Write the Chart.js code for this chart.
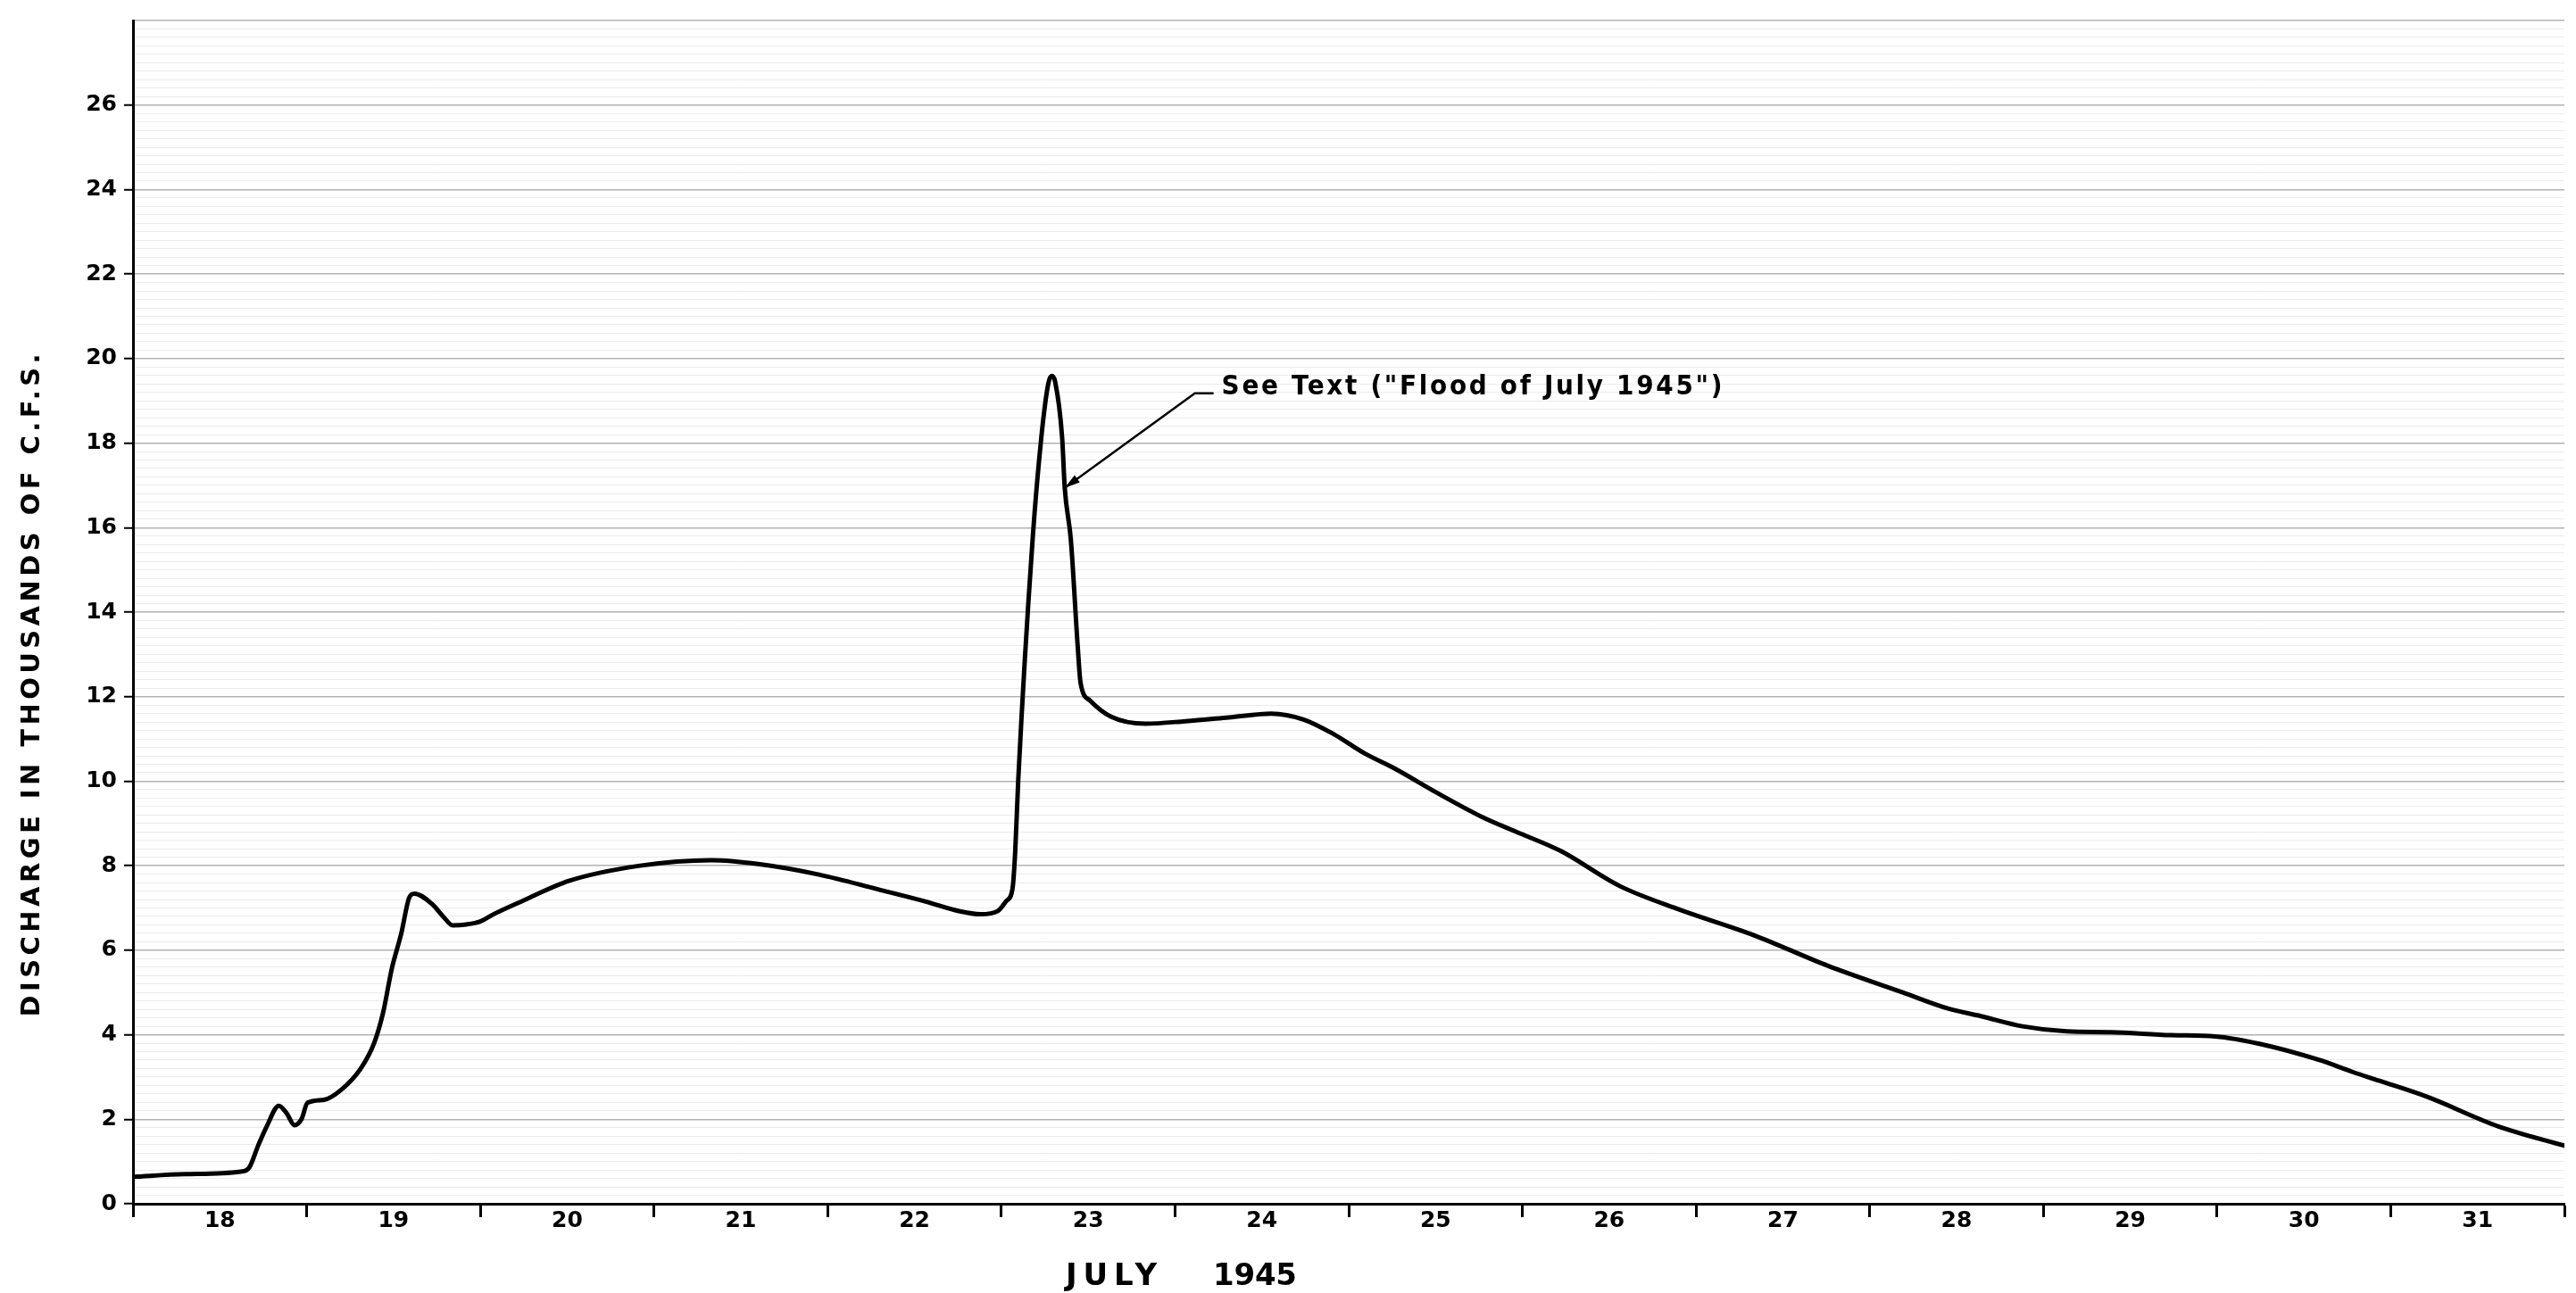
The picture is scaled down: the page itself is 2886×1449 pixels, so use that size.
<!DOCTYPE html>
<html>
<head>
<meta charset="utf-8">
<script src="https://cdn.jsdelivr.net/npm/chart.js@4.4.1/dist/chart.umd.min.js"></script>
<style>
  html, body { margin: 0; padding: 0; background: #ffffff; }
  #wrap { width: 2886px; height: 1449px; }
</style>
</head>
<body>
<div id="wrap"><canvas id="c" width="2886" height="1449"></canvas></div>
<script>
// ---- Data (days of July 1945, discharge in 1000 cfs) ----
const days = [
  18.00, 18.30, 18.62, 18.67, 18.72, 18.77, 18.84, 18.885, 18.93, 18.97,
  19.005, 19.10, 19.20, 19.31, 19.39, 19.44, 19.49, 19.545, 19.59, 19.62,
  19.72, 19.79, 19.84, 19.92, 20.00, 20.08, 20.25, 20.51, 20.92, 21.33,
  21.60, 21.95, 22.29, 22.565, 22.75, 22.88, 22.98, 23.03, 23.064, 23.08,
  23.097, 23.18, 23.23, 23.27, 23.29, 23.31, 23.35, 23.365, 23.40, 23.44,
  23.456, 23.51, 23.63, 23.83, 24.06, 24.31, 24.555, 24.74, 24.915, 25.09,
  25.26, 25.515, 25.77, 25.96, 26.22, 26.56, 26.905, 27.33, 27.76, 28.19,
  28.45, 28.64, 28.88, 29.135, 29.39, 29.735, 29.99, 30.25, 30.59, 30.78,
  30.935, 31.21, 31.62, 32.00
];
const discharge = [
  0.64, 0.70, 0.76, 0.86, 1.37, 1.83, 2.32, 2.14, 1.86, 2.00,
  2.39, 2.46, 2.70, 3.19, 3.82, 4.52, 5.56, 6.40, 7.24, 7.34,
  7.10, 6.78, 6.59, 6.61, 6.68, 6.86, 7.18, 7.64, 8.00, 8.13,
  8.04, 7.79, 7.44, 7.15, 6.93, 6.85, 6.93, 7.17, 7.45, 8.35,
  10.0, 15.72, 18.13, 19.40, 19.59, 19.45, 18.13, 16.94, 15.72, 13.17,
  12.33, 11.91, 11.53, 11.36, 11.42, 11.51, 11.60, 11.46, 11.11, 10.66,
  10.31, 9.71, 9.15, 8.81, 8.35, 7.52, 6.96, 6.36, 5.63, 5.00,
  4.62, 4.44, 4.20, 4.08, 4.06, 3.99, 3.96, 3.78, 3.40, 3.12,
  2.91, 2.53, 1.83, 1.375
];
const dayLabels = ['18','19','20','21','22','23','24','25','26','27','28','29','30','31'];
const yTickLabels = ['0','2','4','6','8','10','12','14','16','18','20','22','24','26'];
const yTitle = 'DISCHARGE IN THOUSANDS OF C.F.S.';
const xTitleWords = ['JULY', '1945'];
const noteText = 'See Text ("Flood of July 1945")';
const noteTip = [23.365, 16.94];     // arrow tip (day, kcfs)
const noteElbow = [24.114, 19.18];   // leader elbow (day, kcfs)

const FONT = '"DejaVu Sans", sans-serif';

function fitSpacing(ctx, text, target) {
  if (!('letterSpacing' in ctx)) return 0;
  ctx.letterSpacing = '0px';
  const w0 = ctx.measureText(text).width;
  const ls = (target - w0) / (text.length - 1);
  ctx.letterSpacing = ls.toFixed(2) + 'px';
  return ls;
}

const decor = {
  id: 'decor',
  afterDraw(chart) {
    const ctx = chart.ctx;
    const xs = chart.scales.x, ys = chart.scales.y;
    ctx.save();
    ctx.fillStyle = '#000';
    ctx.strokeStyle = '#000';

    // Y axis title, rotated, spread with letter spacing
    ctx.save();
    ctx.font = 'bold 29px ' + FONT;
    ctx.textAlign = 'center';
    ctx.textBaseline = 'middle';
    const ls = fitSpacing(ctx, yTitle, 743);
    ctx.translate(36, 768);
    ctx.rotate(-Math.PI / 2);
    ctx.fillText(yTitle, ls / 2, 0);
    ctx.restore();

    // X axis title "JULY   1945"
    ctx.save();
    ctx.font = 'bold 34px ' + FONT;
    ctx.textAlign = 'left';
    ctx.textBaseline = 'alphabetic';
    fitSpacing(ctx, xTitleWords[0], 102);
    ctx.fillText(xTitleWords[0], 1194, 1440);
    fitSpacing(ctx, xTitleWords[1], 94);
    ctx.fillText(xTitleWords[1], 1359, 1440);
    ctx.restore();

    // Annotation with leader arrow
    const tipX = xs.getPixelForValue(noteTip[0]), tipY = ys.getPixelForValue(noteTip[1]);
    const elX = xs.getPixelForValue(noteElbow[0]), elY = ys.getPixelForValue(noteElbow[1]);
    ctx.lineWidth = 2.5;
    ctx.lineCap = 'round';
    ctx.beginPath();
    ctx.moveTo(elX + 20, elY);
    ctx.lineTo(elX, elY);
    ctx.lineTo(tipX, tipY);
    ctx.stroke();
    const ang = Math.atan2(tipY - elY, tipX - elX);
    const ah = 18, aw = 0.28;
    ctx.beginPath();
    ctx.moveTo(tipX, tipY);
    ctx.lineTo(tipX - ah * Math.cos(ang - aw), tipY - ah * Math.sin(ang - aw));
    ctx.lineTo(tipX - ah * Math.cos(ang + aw), tipY - ah * Math.sin(ang + aw));
    ctx.closePath();
    ctx.fill();

    ctx.font = 'bold 31px "DejaVu Sans Condensed", "DejaVu Sans", sans-serif';
    ctx.textAlign = 'left';
    ctx.textBaseline = 'alphabetic';
    fitSpacing(ctx, noteText, 561);
    ctx.fillText(noteText, elX + 30, elY + 1);
    ctx.restore();
  }
};

const xTickValues = [];
for (let i = 0; i < dayLabels.length; i++) {
  xTickValues.push(18 + i);
  xTickValues.push(18 + i + 0.5);
}
xTickValues.push(18 + dayLabels.length);

const isWhole = v => Math.abs(v - Math.round(v)) < 1e-6;
const isMajorY = v => isWhole(v) && Math.round(v) % 2 === 0;

new Chart(document.getElementById('c'), {
  type: 'line',
  data: {
    datasets: [{
      data: days.map((d, i) => ({ x: d, y: discharge[i] })),
      borderColor: '#000',
      borderWidth: 5,
      pointRadius: 0,
      fill: false,
      cubicInterpolationMode: 'monotone',
      borderCapStyle: 'round',
      borderJoinStyle: 'round'
    }]
  },
  options: {
    responsive: false,
    animation: false,
    events: [],
    layout: { padding: { left: 0, right: 13, top: 11, bottom: 0 } },
    plugins: { legend: { display: false }, tooltip: { enabled: false }, title: { display: false } },
    scales: {
      x: {
        type: 'linear',
        min: 18,
        max: 32,
        afterBuildTicks: s => { s.ticks = xTickValues.map(v => ({ value: v })); },
        afterFit: s => { s.height = 100; },
        border: { display: true, color: '#000', width: 3 },
        grid: {
          drawOnChartArea: false,
          drawTicks: true,
          tickLength: 15,
          tickWidth: 3,
          tickColor: c => (c.tick && isWhole(c.tick.value)) ? '#000' : 'rgba(0,0,0,0)'
        },
        ticks: {
          autoSkip: false,
          maxRotation: 0,
          minRotation: 0,
          padding: -11,
          color: '#000',
          font: { family: FONT, size: 25, weight: 'bold' },
          callback: v => isWhole(v) ? '' : dayLabels[Math.floor(v) - 18]
        }
      },
      y: {
        type: 'linear',
        min: 0,
        max: 28,
        afterFit: s => { s.width = 149; },
        border: { display: true, color: '#000', width: 3 },
        grid: {
          drawOnChartArea: true,
          tickLength: 10,
          tickWidth: 2,
          lineWidth: c => (c.tick && isMajorY(c.tick.value)) ? 1.5 : 1,
          color: c => (c.tick && isMajorY(c.tick.value)) ? 'rgba(0,0,0,0.3)' : 'rgba(0,0,0,0.08)',
          tickColor: c => (c.tick && isMajorY(c.tick.value) && c.tick.value < 27) ? '#000' : 'rgba(0,0,0,0)'
        },
        ticks: {
          stepSize: 0.2,
          autoSkip: false,
          padding: 8,
          color: '#000',
          font: { family: FONT, size: 25, weight: 'bold' },
          callback: v => {
            if (!isMajorY(v)) return '';
            const k = Math.round(v) / 2;
            return k < yTickLabels.length ? yTickLabels[k] : '';
          }
        }
      }
    }
  },
  plugins: [decor]
});
</script>
</body>
</html>
